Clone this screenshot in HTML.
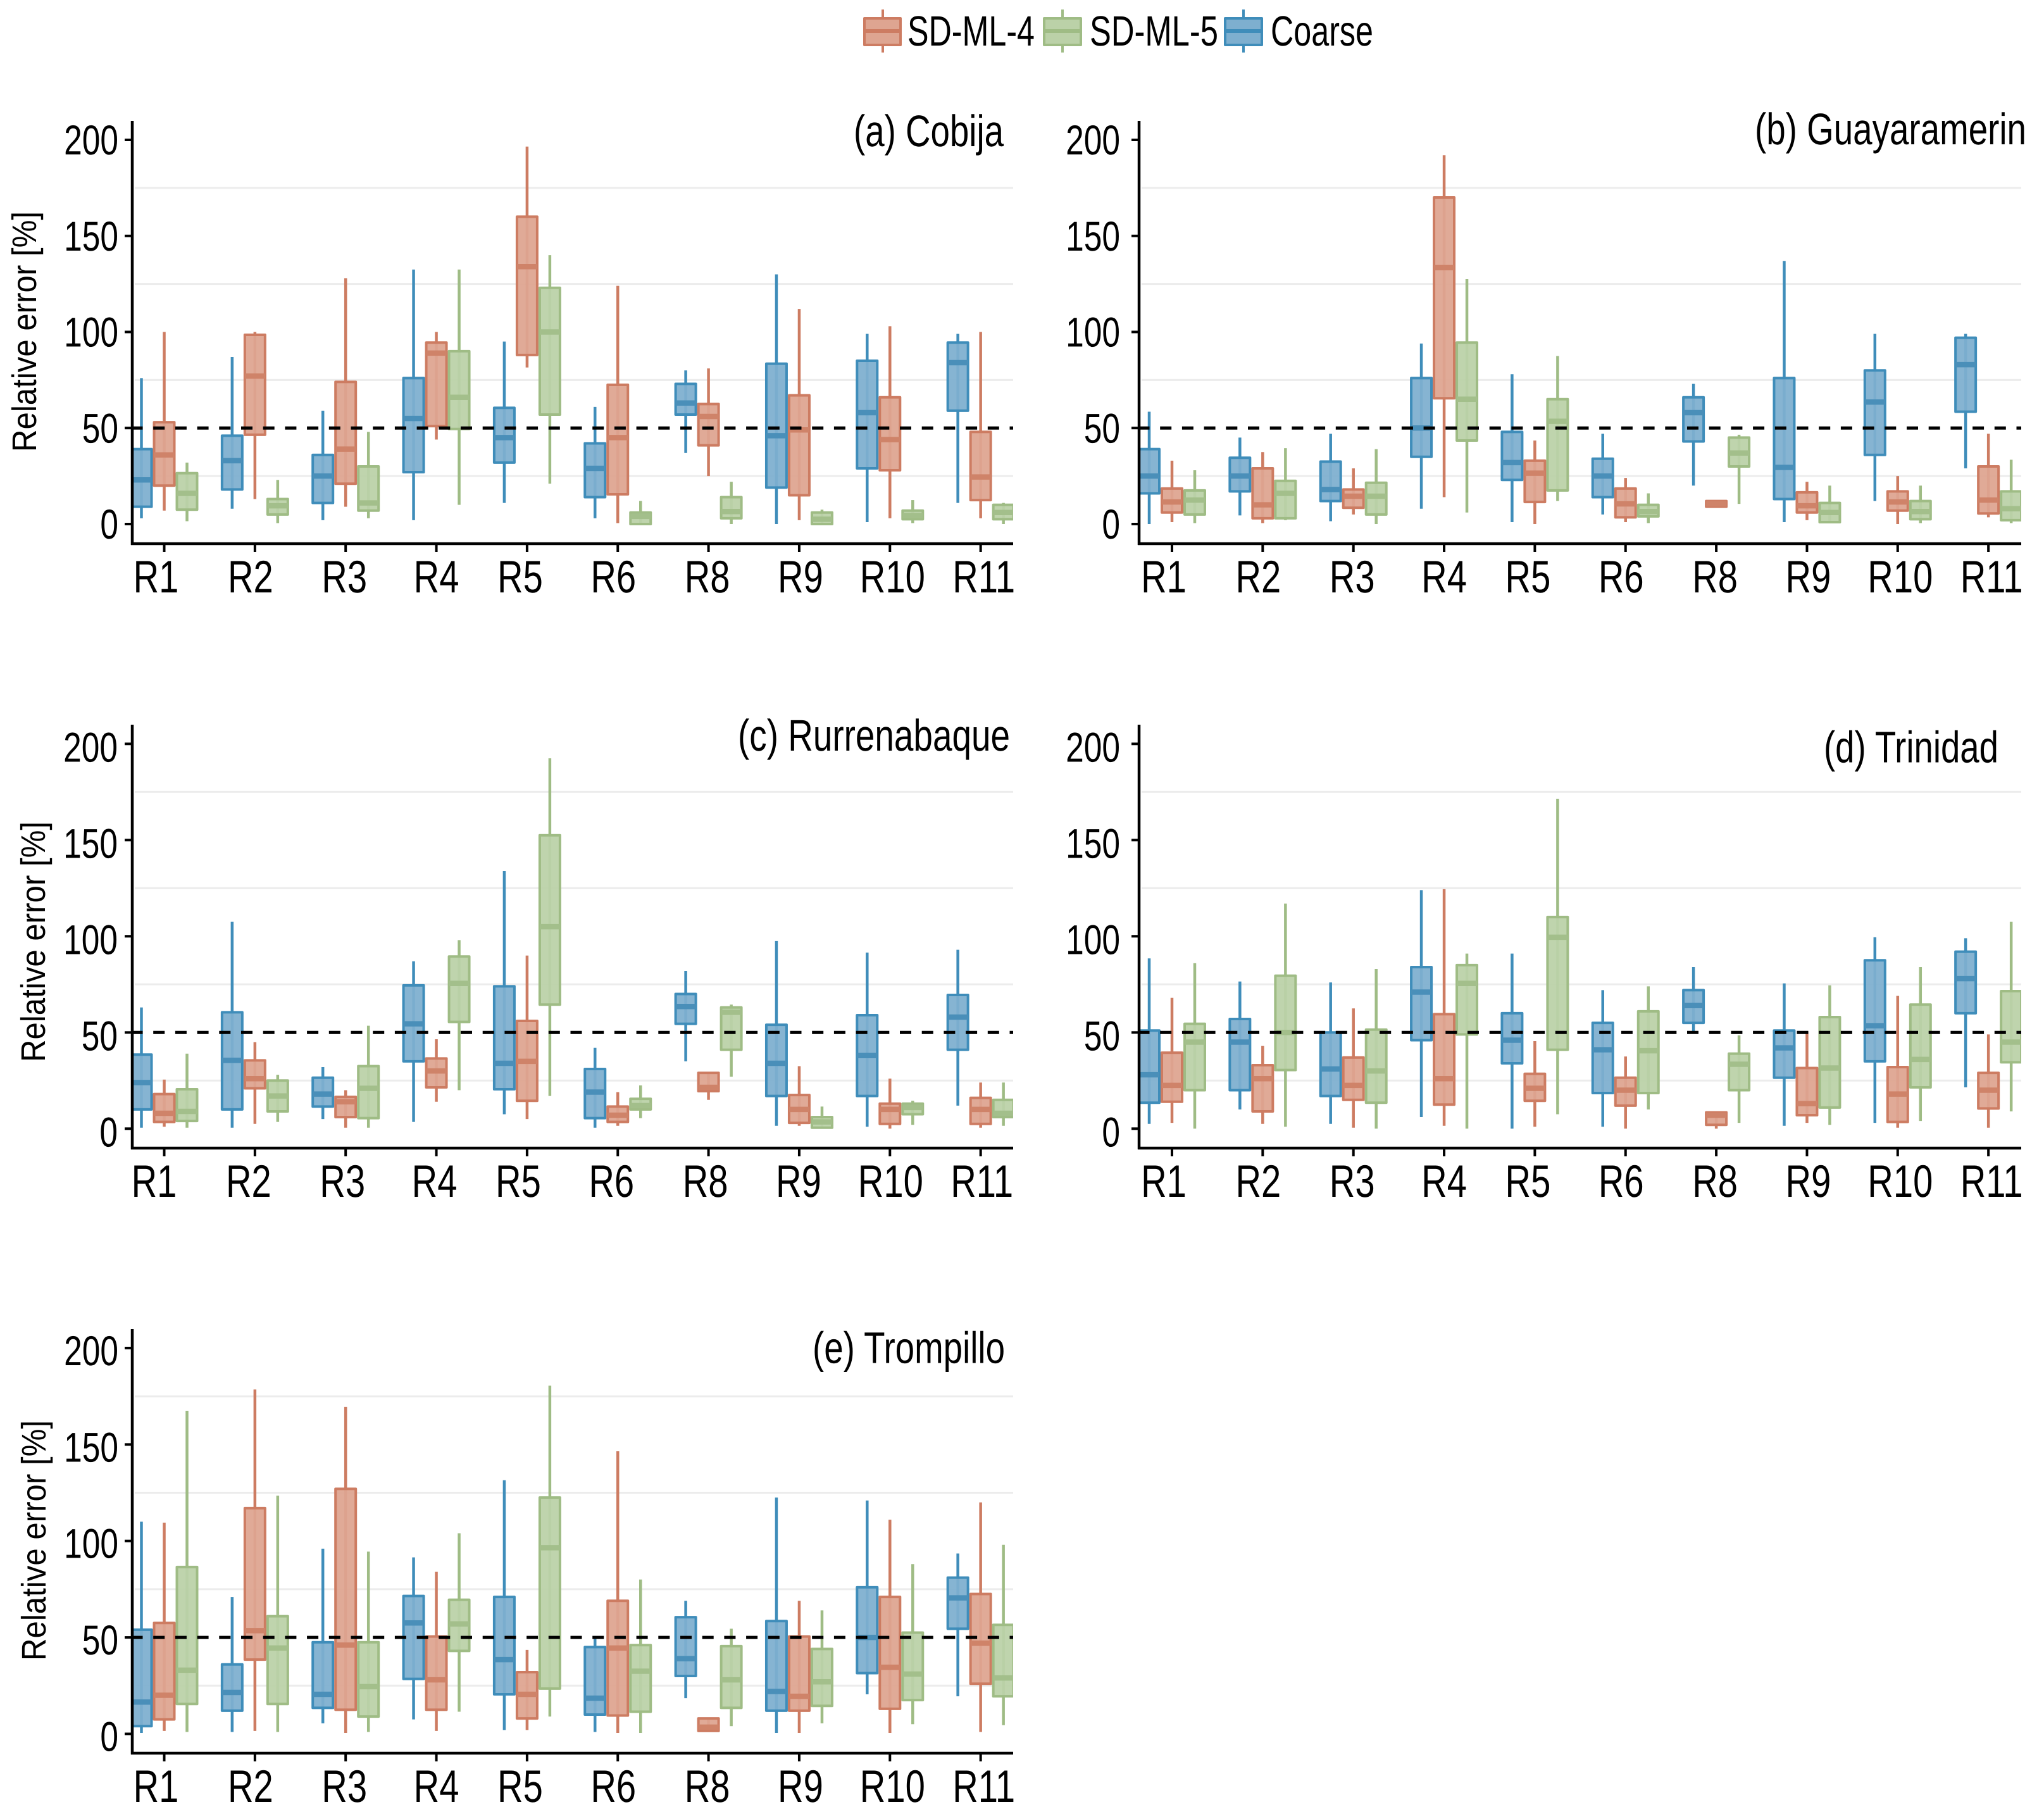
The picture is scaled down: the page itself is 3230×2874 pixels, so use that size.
<!DOCTYPE html>
<html lang="en">
<head>
<meta charset="utf-8">
<title>Relative error boxplots</title>
<style>
html,body{margin:0;padding:0;background:#fff;}
svg{display:block;}
text{font-family:"Liberation Sans",Arial,sans-serif;fill:#000;text-rendering:geometricPrecision;}
</style>
</head>
<body>
<svg id="chart" xmlns="http://www.w3.org/2000/svg" width="3230" height="2874" viewBox="0 0 3230 2874">
  <rect x="0" y="0" width="3230" height="2874" fill="#fff"/>
  <g>
    <g>
      <line x1="1395" x2="1395" y1="15" y2="83" stroke="#cd7c62" stroke-width="4"/>
      <rect x="1366" y="29" width="57" height="42" fill="#dea591" stroke="#cd7c62" stroke-width="4" stroke-linejoin="round"/>
      <line x1="1366" x2="1423" y1="49" y2="49" stroke="#cd7c62" stroke-width="6"/>
      <text x="1434" y="72" font-size="67" textLength="201" lengthAdjust="spacingAndGlyphs">SD-ML-4</text>
    </g>
    <g>
      <line x1="1679" x2="1679" y1="15" y2="83" stroke="#9fbc85" stroke-width="4"/>
      <rect x="1650" y="29" width="58" height="42" fill="#bbd1a8" stroke="#9fbc85" stroke-width="4" stroke-linejoin="round"/>
      <line x1="1650" x2="1708" y1="49" y2="49" stroke="#9fbc85" stroke-width="6"/>
      <text x="1722" y="72" font-size="67" textLength="203" lengthAdjust="spacingAndGlyphs">SD-ML-5</text>
    </g>
    <g>
      <line x1="1965" x2="1965" y1="15" y2="83" stroke="#3f8dba" stroke-width="4"/>
      <rect x="1936" y="29" width="58" height="42" fill="#7eafcf" stroke="#3f8dba" stroke-width="4" stroke-linejoin="round"/>
      <line x1="1936" x2="1994" y1="49" y2="49" stroke="#3f8dba" stroke-width="6"/>
      <text x="2008" y="72" font-size="67" textLength="162" lengthAdjust="spacingAndGlyphs">Coarse</text>
    </g>
  </g>
</svg>
<script>
// Shared axis values
const categories = ['R1','R2','R3','R4','R5','R6','R8','R9','R10','R11'];
const yTicks = [0,50,100,150,200];
const gridValues = [25,75,125,175];
const thresholdValue = 50;

// Each row is [lower whisker, Q1, median, Q3, upper whisker], one per category
const cobijaCoarse = [[3,9,23,39,76],[8,18,33,46,87],[2,11,25,36,59],[2,27,55,76,132.5],[11,32,45,60.5,95],[3,14,29,42,61],[37,57,63,73,80],[0,19,46,83.5,130],[1,29,58,85,99],[11,59,84,94.5,99]];
const cobijaSd4 = [[7,20,36,53,100],[13,46.5,77,98.5,100],[9,21,39,74,128],[44,51,89,94.5,100],[81.5,88,134,160,196.5],[0.5,15.5,45,72.5,124],[25,41,56,62.5,81],[2,15,49,67,112],[3,28,44,66,103],[3,12.5,24.5,48,100]];
const cobijaSd5 = [[1.5,7.5,16,26.5,32],[0.5,5,9.5,13,23],[3,7,11,30,48],[10,49.5,66,90,132.5],[21,57,100,123,140],[0,0,4,6,12],[0,3,6.5,14,22],[0,0,2.5,6,7.5],[0.5,2.5,4.5,7,12.5],[0,2.5,6,10,11]];

const guayaCoarse = [[0,16,25,39,58.5],[4.5,17,25,34.5,45],[1.5,12,18,32.5,47],[8,35,50,76,94],[1,23,32,48,78],[5,14,25,34,47],[20,43,58,66,73],[1,13,29.5,76,137],[12,36,63.5,80,99],[29,58.5,83,97,99]];
const guayaSd4 = [[1,6,11.5,18.5,33],[0.5,3,10,29,37.5],[5,8.5,14.5,18,29],[14,65.5,133.5,170,192],[0,11.5,26.5,33,43.5],[1,3.5,10.5,18.5,24],[9,9,10.5,12,12],[2,6,9.5,16.5,22],[0,7,11.5,17,25],[3.5,5.5,12.5,30,47]];
const guayaSd5 = [[0.5,5,12.5,17.5,28],[2,3,16,22.5,39.5],[0,5,14.5,21.5,39],[6,43.5,65,94.5,127.5],[12,17.5,53.5,65,87.5],[0.5,4,6.5,10,16],[10.5,30,37,45,46.5],[0.5,1,6,11,20],[0.5,2.5,6.5,12,20],[0.5,2,8,17,33.5]];

const rurreCoarse = [[0.5,10,24,38.5,63],[0.5,10,35.5,60.5,107.5],[5,11.5,18,26.5,32],[3.5,35,54.5,74.5,87],[7.5,20.5,34,74,134],[0.5,5.5,19,31,42],[35,54.5,63.5,70,82],[1.5,17,34,54,97.5],[1,17,38,59,91.5],[12,41,58,69.5,93]];
const rurreSd4 = [[1,3.5,8,18,25.5],[2.5,21,26,35.5,45],[0.5,6,14,16.5,20],[14,21.5,30,36.5,46.5],[5,14.5,35,56,90],[1.5,3.5,7,11.5,19],[15,19.5,21.5,29,29],[1.5,3,10,17.5,32.5],[0,2.5,10,13,26],[0.5,2.5,10,16,24]];
const rurreSd5 = [[0.5,4,9,20.5,39],[3.5,9,17,25,28],[0.5,5.5,21,32.5,53.5],[20,55.5,75.5,89.5,98],[17,64.5,105,152.5,192.5],[5.5,10,12,15.5,22.5],[27,41,60.5,63,64.5],[0,0.5,3.5,6,11.5],[2,7.5,11,13,14.5],[1.5,6,8,15,24]];

const trinidadCoarse = [[2.5,13.5,28,51,88.5],[10,20,45,57,76.5],[2.5,17,31,50,76],[6,46,71,84,124],[0,34,46,60,91],[1,18.5,41,55,72],[50,55,64,72,84],[1.5,26.5,42,51,75.5],[3,35,53.5,87.5,99.5],[21.5,60,78,92,99]];
const trinidadSd4 = [[3,14,22.5,39.5,68],[2.5,9,26,33,43],[0.5,15,22.5,37,62.5],[1.5,12.5,26,59.5,124.5],[1,14.5,21,28.5,45.5],[0,12,20,26.5,37.5],[0,2,7,8.5,8.5],[3,7,13,31.5,50.5],[0.5,3.5,18,32,69],[0.5,10.5,20,29,49]];
const trinidadSd5 = [[0,20,45,54.5,86],[1,30.5,50,79.5,117],[0,13.5,30,51.5,83],[0,49,75.5,85,91],[7.5,41,99.5,110,171.5],[10,18.5,40.5,61,74],[3,20,33.5,39,48.5],[2,11,31.5,58,74.5],[4,21.5,36,64.5,84],[9,34.5,45,71.5,107.5]];

const trompilloCoarse = [[0.5,4,16.5,54,110],[1,12,21.5,36,71],[5.5,13.5,20.5,47.5,96],[7.5,28.5,57.5,71.5,91.5],[2,20.5,38.5,71,131.5],[1,10,18.5,45,50],[18.5,30,39,60.5,69],[0.5,12,22,58.5,122.5],[20.5,31.5,50,76,121],[19.5,54.5,70.5,81,93.5]];
const trompilloSd4 = [[1.5,7.5,20,57.5,109.5],[1.5,38.5,53.5,117,178.5],[0.5,12.5,46,127,169.5],[1.5,12.5,28,50.5,84],[2,8,20.5,32,43.5],[0.5,9.5,44.5,69,146.5],[1.5,1.5,3.5,8,8],[0.5,12,19.5,50.5,69],[0.5,13,34.5,71,111],[1,26,47,72.5,120]];
const trompilloSd5 = [[1,15.5,33,86.5,167.5],[1,15.5,44.5,61,123.5],[1,9,24.5,47.5,94.5],[11.5,43,57,69.5,104],[9,23.5,96.5,122.5,180.5],[0.5,11.5,32.5,46,80],[4,13.5,28,45.5,54.5],[5.5,14.5,27,44,64],[5,17.5,31,52.5,88],[4.5,19.5,29,56.5,98]];

// Layout
const NS = 'http://www.w3.org/2000/svg';
const svg = document.getElementById('chart');
const seriesStyle = [
  {key:'coarse', stroke:'#3f8dba', fill:'#7eafcf', fillOpacity:0.94, median:'#4a8fb9', offset:-36},
  {key:'sd-ml-4', stroke:'#cd7c62', fill:'#dea591', fillOpacity:0.94, median:'#cf8369', offset:0},
  {key:'sd-ml-5', stroke:'#9fbc85', fill:'#bbd1a8', fillOpacity:0.94, median:'#a3bf8b', offset:36}
];
const labelNudges = [-13,-7,-2,0,-11,-7,-2,2,4,5];
const panels = [
  {id:'a', title:'(a) Cobija', tx:1349, ty:231, tw:237, left:209, right:1601, top:191, bottom:859, y0:828, unit:3.035, first:259.5, labelRight:187, labelDy:-1, labelDx:0, yTitle:{x:57, y:524}, coarse:cobijaCoarse, sd4:cobijaSd4, sd5:cobijaSd5},
  {id:'b', title:'(b) Guayaramerin', tx:2773, ty:228, tw:429, left:1800, right:3194, top:191, bottom:859, y0:828, unit:3.035, first:1852, labelRight:1770, labelDy:-1, labelDx:0, coarse:guayaCoarse, sd4:guayaSd4, sd5:guayaSd5},
  {id:'c', title:'(c) Rurrenabaque', tx:1166, ty:1186, tw:430, left:209, right:1601, top:1145, bottom:1814, y0:1783.3, unit:3.04, first:259.5, labelRight:186, labelDy:4, labelDx:-3, yTitle:{x:71, y:1488}, coarse:rurreCoarse, sd4:rurreSd4, sd5:rurreSd5},
  {id:'d', title:'(d) Trinidad', tx:2882, ty:1204.6, tw:276, left:1800, right:3194, top:1145, bottom:1814, y0:1783.3, unit:3.04, first:1852, labelRight:1770, labelDy:4, labelDx:0, coarse:trinidadCoarse, sd4:trinidadSd4, sd5:trinidadSd5},
  {id:'e', title:'(e) Trompillo', tx:1284, ty:2153.5, tw:304, left:209, right:1601, top:2100, bottom:2770, y0:2739.5, unit:3.048, first:259.5, labelRight:187, labelDy:3, labelDx:0, yTitle:{x:72, y:2434}, coarse:trompilloCoarse, sd4:trompilloSd4, sd5:trompilloSd5}
];
const STEP = 143.35;
const BOX_W = 32;

function make(tag, parent, attrs){
  const el = document.createElementNS(NS, tag);
  for (const k in attrs) el.setAttribute(k, attrs[k]);
  parent.appendChild(el);
  return el;
}
function label(parent, x, y, str, size, sx, anchor){
  const el = make('text', parent, {transform:'translate('+x+','+y+') scale('+sx+',1)', 'font-size':size, 'text-anchor':anchor});
  el.textContent = str;
  return el;
}

panels.forEach(function(p){
  const g = make('g', svg, {});
  
  

  const yScale = function(v){ return p.y0 - v * p.unit; };
  const xScale = function(i){ return p.first + i * STEP; };

  const clip = make('clipPath', g, {id:'clip-' + p.id});
  make('rect', clip, {x:p.left, y:p.top - 5, width:p.right - p.left, height:p.bottom - p.top + 5});

  gridValues.forEach(function(v){
    const grid = make('line', g, {x1:p.left + 4, x2:p.right, y1:yScale(v), y2:yScale(v), stroke:'#ececec', 'stroke-width':3});
    
    
  });

  const plot = make('g', g, {'clip-path':'url(#clip-' + p.id + ')'});
  
  

  [p.coarse, p.sd4, p.sd5].forEach(function(rows, s){
    const st = seriesStyle[s];
    rows.forEach(function(row, i){
      const cx = xScale(i) + st.offset;
      const lo = row[0], q1 = row[1], med = row[2], q3 = row[3], hi = row[4];
      const box = make('g', plot, {});
      
      
      const whisker = make('line', box, {x1:cx, x2:cx, y1:yScale(lo), y2:yScale(hi), stroke:st.stroke, 'stroke-width':4.5});
      
      
      const rect = make('rect', box, {x:cx - BOX_W / 2, y:yScale(q3), width:BOX_W, height:Math.max(yScale(q1) - yScale(q3), 0.5), fill:st.fill, 'fill-opacity':st.fillOpacity, stroke:st.stroke, 'stroke-width':4, 'stroke-linejoin':'round'});
      
      
      const median = make('line', box, {x1:cx - BOX_W / 2, x2:cx + BOX_W / 2, y1:yScale(med), y2:yScale(med), stroke:st.median, 'stroke-width':8.5});
      
      
    });
  });

  const threshold = make('line', g, {x1:p.left - 1.5, x2:p.right, y1:yScale(thresholdValue), y2:yScale(thresholdValue), stroke:'#000', 'stroke-width':5, 'stroke-dasharray':'18 16.7'});
  
  

  const yAxis = make('line', g, {x1:p.left, x2:p.left, y1:p.top, y2:p.bottom + 2, stroke:'#000', 'stroke-width':4.5});
  
  
  const xAxis = make('line', g, {x1:p.left - 2, x2:p.right, y1:p.bottom, y2:p.bottom, stroke:'#000', 'stroke-width':4.5});
  
  

  yTicks.forEach(function(v){
    const tick = make('line', g, {x1:p.left - 12, x2:p.left, y1:yScale(v), y2:yScale(v), stroke:'#000', 'stroke-width':4});
    
    
    const txt = label(g, p.labelRight, yScale(v) + 24 + p.labelDy, String(v), 66, 0.78, 'end');
    
    
  });

  categories.forEach(function(c, i){
    const tick = make('line', g, {x1:xScale(i), x2:xScale(i), y1:p.bottom, y2:p.bottom + 13, stroke:'#000', 'stroke-width':4});
    
    
    const txt = label(g, xScale(i) + labelNudges[i] + p.labelDx, p.bottom + 77, c, 72, 0.78, 'middle');
    
    
  });

  const title = make('text', g, {x:p.tx, y:p.ty, 'font-size':70, textLength:p.tw, lengthAdjust:'spacingAndGlyphs'});
  title.textContent = p.title;
  
  

  if (p.yTitle) {
    const yt = make('text', g, {transform:'translate(' + p.yTitle.x + ',' + p.yTitle.y + ') rotate(-90)', 'font-size':54, 'text-anchor':'middle', textLength:380, lengthAdjust:'spacingAndGlyphs'});
    yt.textContent = 'Relative error [%]';
    
    
  }
});
</script>
</body>
</html>
